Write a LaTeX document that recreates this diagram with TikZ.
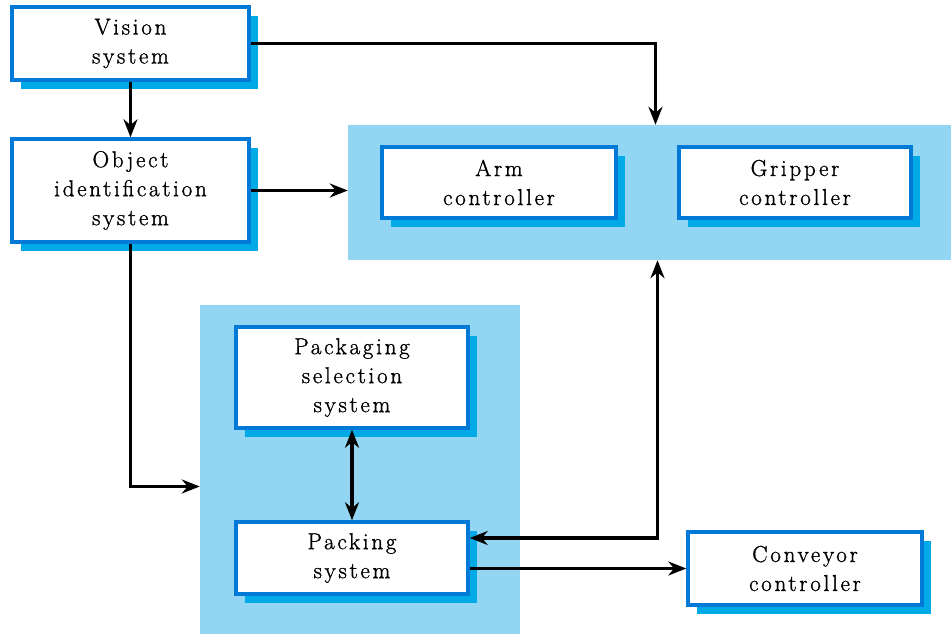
\documentclass[tikz,border=0pt]{standalone}
\usepackage{fontspec}
\setmainfont{Latin Modern Roman}[LetterSpace=12, FakeBold=1.2]
\usetikzlibrary{arrows.meta,shadows}
\definecolor{boxblue}{RGB}{0,122,214}
\definecolor{shadeblue}{RGB}{0,170,230}
\definecolor{groupblue}{RGB}{146,214,244}
\tikzset{
  unit/.style={draw=boxblue, line width=3.5pt, fill=white, align=center, inner sep=0pt,
    font=\fontsize{23}{29}\selectfont,
    drop shadow={shadow xshift=9pt, shadow yshift=-9pt, fill=shadeblue, opacity=1}},
  group/.style={fill=groupblue, inner sep=0pt},
  link/.style={line width=3.2pt, -{Stealth[length=18pt,width=14pt]}},
  twoway/.style={line width=3.2pt, {Stealth[length=18pt,width=14pt]}-{Stealth[length=18pt,width=14pt]}},
}
\begin{document}
\begin{tikzpicture}[x=1pt,y=-1pt]
        \useasboundingbox (0,0) rectangle (951,634);

        % Shaded panels behind the controller and packing units
        \node[group, minimum width=603pt, minimum height=135pt] (ctrl) at (649.5,192.5) {};
        \node[group, minimum width=320pt, minimum height=329pt] (pack) at (360,469.5) {};

        % Left column
        \node[unit, minimum width=237pt, minimum height=73pt] (vision) at (130.5,43.5) {Vision\\system};
        \node[unit, minimum width=237pt, minimum height=103pt] (object) at (130.5,190.5) {Object\\identification\\system};

        % Controllers in the upper panel
        \node[unit, minimum width=234pt, minimum height=71pt] (arm) at (499,182.5) {Arm\\controller};
        \node[unit, minimum width=232pt, minimum height=71pt] (gripper) at (795,182.5) {Gripper\\controller};

        % Units in the lower panel
        \node[unit, minimum width=232pt, minimum height=101pt] (pksel) at (352,377.5) {Packaging\\selection\\system};
        \node[unit, minimum width=232pt, minimum height=72pt] (packing) at (352,558) {Packing\\system};

        % Conveyor
        \node[unit, minimum width=234pt, minimum height=73pt] (conveyor) at (805,568.5) {Conveyor\\controller};

        % Connectors
        \draw[link] (vision) -- (object);
        \draw[link] (vision.east) -| ([xshift=6pt]ctrl.north);
        \draw[link] (object.east) -- (object.east -| ctrl.west);
        \draw[link] (object.south) |- ([yshift=-17pt]pack.west);
        \draw[twoway] (pksel) -- (packing);
        \draw[twoway] ([xshift=8pt]ctrl.south) |- ([yshift=20pt]packing.east);
        \draw[link] (packing.east |- conveyor.west) -- (conveyor.west);
    \end{tikzpicture}
\end{document}
